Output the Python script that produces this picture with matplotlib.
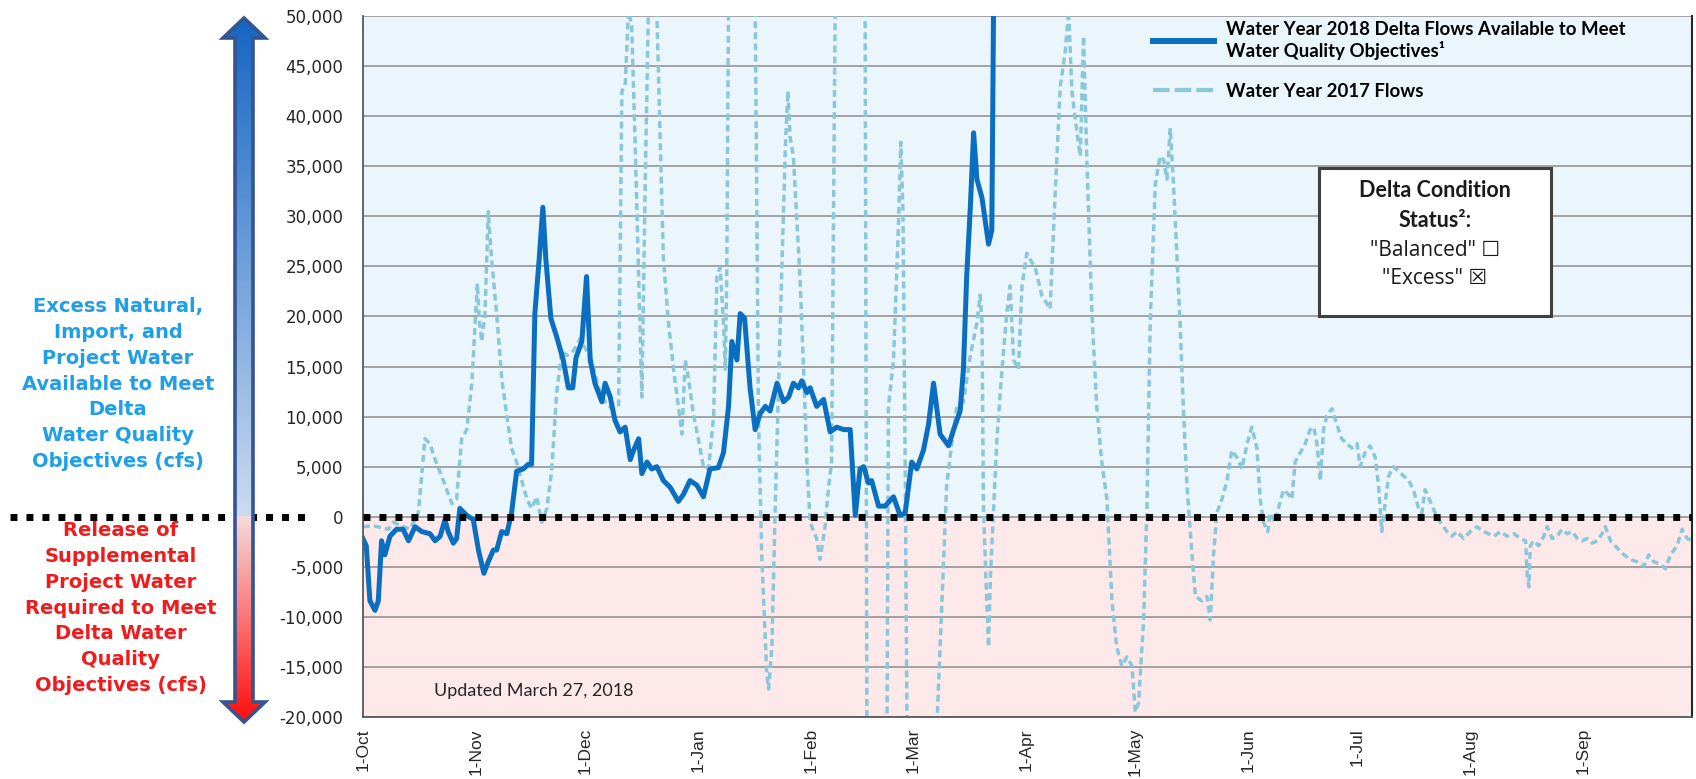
import numpy as np
import matplotlib
matplotlib.use("Agg")
import matplotlib.pyplot as plt
from matplotlib.patches import Polygon, Rectangle
from matplotlib.lines import Line2D
from matplotlib.ticker import FuncFormatter

plt.rcParams["font.family"] = "DejaVu Sans"

# x = days counted from 1-Oct, y = cfs
wy2018_day = [0, 0.9, 1.9, 3.3, 4.2, 5.1, 6, 7.4, 9.2, 11, 12.5, 14.3, 16.1, 18.4, 19.8,
              21.2, 22.5, 23.4, 24.8, 25.7, 26.6, 28.5, 30.3, 31.7, 33.2, 34.4, 35.8, 36.7,
              38.1, 39.5, 40.8, 42.2, 44, 45.4, 46.3, 47.2, 48.4, 49.4, 50.2, 51.6, 53.2, 55,
              56.4, 57.6, 58.5, 60.1, 61.4, 62.4, 63.7, 65.6, 66.5, 67.9, 69.2, 70.6, 72, 73.4,
              74.3, 75.7, 76.6, 78, 79.3, 80.7, 82.5, 84.4, 86.6, 88, 89.8, 91.7, 93.5, 95.3,
              97.6, 99, 100.4, 101.3, 102.7, 103.6, 104.8, 106.3, 107.7, 109.1, 110.5, 111.8,
              113.7, 115.5, 116.9, 118.2, 119.6, 120.5, 121.9, 122.8, 124.6, 126.5, 128.3,
              130.1, 132, 133.8, 135.2, 136.5, 137.5, 138.8, 139.7, 141.6, 143.4, 145.7, 147.5,
              148.9, 150.7, 152.1, 153.9, 155.3, 156.7, 158.5, 160.8, 162.2, 164, 164.9, 165.8,
              166.8, 167.7, 168.6, 170, 171.8, 172.7, 173.2, 173.6]
wy2018_cfs = [-2200, -2900, -8400, -9350, -8400, -2400, -3800, -1950, -1250, -1250, -2400,
              -1000, -1480, -1700, -2400, -1950, -300, -1500, -2640, -2200, 830, 140, -300,
              -3330, -5650, -4500, -3330, -3330, -1480, -1700, 370, 4540, 4770, 5230, 5230,
              20280, 25800, 30900, 25800, 19800, 17960, 15650, 12870, 12870, 15880, 17500,
              23980, 15650, 13330, 11480, 13330, 11950, 9630, 8470, 8940, 5700, 6620, 7780,
              4300, 5460, 4770, 5000, 3610, 2920, 1530, 2220, 3610, 3150, 1990, 4770, 4900,
              6390, 11020, 17500, 15650, 20280, 19820, 12870, 8700, 10320, 11020, 10560, 13330,
              11480, 11950, 13330, 12870, 13570, 12400, 12870, 11020, 11710, 8470, 8940, 8700,
              8700, 140, 4770, 5000, 3380, 3610, 1060, 1060, 1990, 140, 370, 5460, 4770, 6620,
              9170, 13330, 8240, 7080, 8700, 10560, 14720, 23980, 30900, 38340, 33700, 31850,
              27220, 28610, 52000, 60000]

wy2017_day = [0, 3, 5, 7, 8.3, 11, 12.9, 15.2, 17, 18.4, 19.8, 21.6, 23, 24.4, 25.7, 27.1,
              28.5, 29.9, 30.8, 31.4, 31.9, 32.6, 33.5, 34.4, 35.3, 36.7, 38.1, 39.5, 40.8,
              42.2, 43.6, 45, 46.3, 47.7, 49.1, 50.5, 51.8, 53.2, 54.6, 55.9, 57.8, 59.6, 61.4,
              62.8, 64.7, 66.5, 68.3, 70.2, 71.1, 72, 72.9, 73.8, 74.7, 75.7, 76.6, 77.5, 78.4,
              79.8, 80.7, 81.6, 82.5, 83.9, 85.3, 86.6, 87.6, 88.5, 89.4, 90.8, 92.1, 93.5,
              94.9, 96.3, 97.2, 98.1, 99, 99.5, 99.9, 100.4, 104, 107.7, 108.6, 109.5, 110.9,
              111.4, 112.3, 113.2, 114.6, 116, 116.7, 117.3, 118.2, 119.1, 120, 121, 121.9,
              122.8, 124.6, 125.5, 126.9, 127.8, 128.7, 129.7, 134, 137.9, 138.4, 141, 143.9,
              144.3, 145.7, 147.1, 147.7, 148.3, 148.9, 149.4, 152, 154, 156, 157.6, 159,
              160.3, 161.7, 163.1, 164.9, 166.8, 168.6, 169.5, 170, 170.4, 171.3, 171.8, 172.3,
              173.2, 174.1, 175.5, 176.8, 177.7, 178.7, 180, 181, 182.3, 183.7, 184.6, 186.4,
              188.7, 190.1, 191.5, 192.8, 193.8, 194.7, 196.1, 197, 197.9, 198.8, 200.2, 201.5,
              202.9, 204.3, 205.7, 207, 208.4, 209.8, 211.2, 212.1, 213, 214.4, 215.3, 216.2,
              217.6, 218.9, 219.9, 220.8, 221.7, 222.6, 223.5, 224.4, 225.4, 226.3, 227.2,
              228.6, 230.4, 231.8, 232.7, 233.6, 234.5, 235.9, 237.3, 238.6, 240, 241.4, 242.8,
              244.1, 245.5, 246.4, 247.3, 248.5, 249.1, 250.5, 251.4, 252.8, 254.2, 255.1, 256,
              257.4, 258.8, 260.1, 261.1, 262, 262.9, 263.8, 264.7, 266.1, 267.5, 268.8, 270.2,
              271.6, 273, 273.9, 275.2, 276.6, 278, 278.9, 279.8, 280.7, 281.7, 283, 284.4,
              285.8, 287.2, 288.5, 289.9, 290.8, 291.7, 293.1, 294.5, 295.9, 297.7, 299.1,
              300.4, 302.3, 304.1, 305.9, 307.8, 310.6, 312.4, 314.2, 316.1, 317.9, 319.3,
              319.7, 320.2, 320.6, 321.5, 322.9, 324.3, 325.2, 326.6, 328, 329.3, 330.7, 332.1,
              333.5, 334.8, 336.2, 337.6, 339, 340.3, 341.2, 342.6, 344.4, 346.3, 348.1, 349.9,
              351.8, 353.1, 354.5, 356.3, 357.7, 359.1, 360.9, 362.3, 363.7, 365]
wy2017_cfs = [-1000, -900, -1100, -1250, -550, -1000, -1250, 370, 7780, 7300, 5700, 4070,
              2690, 1300, 1760, 7780, 8700, 13330, 19350, 23290, 19820, 17500, 20280, 30470,
              25830, 20280, 13800, 10090, 6850, 5460, 3610, 1760, 830, 1990, -560, 830, 4540,
              12400, 16580, 16100, 16580, 17730, 16580, 15650, 12870, 11480, 10790, 11020,
              42500, 43000, 50500, 49000, 37900, 24000, 11950, 33200, 51000, 53000, 50500,
              37900, 25800, 19350, 14720, 11020, 8240, 15650, 13800, 10090, 7780, 5000, 4770,
              10090, 23980, 24900, 19350, 14720, 24000, 52000, 70000, 52000, 10090, -3800,
              -15800, -17200, -13000, 830, 19350, 36950, 42500, 37900, 36000, 30000, 24000,
              14720, 5460, -560, -2200, -4260, -1000, 2690, 5460, 52000, 70000, 52000, -22000,
              -35000, -22000, 11020, 15650, 29540, 37400, 30470, 5460, -21000, -24000, -20300,
              -23000, -21000, -8400, 3150, 7300, 11020, 11480, 16100, 19350, 22130, 19350, 830,
              -8400, -13000, -6100, 830, 7780, 14720, 20280, 23060, 15650, 14720, 23060, 26300,
              25400, 24900, 22130, 20740, 32300, 43000, 46200, 50500, 42500, 38300, 36000,
              48000, 35600, 20280, 11020, 5460, 1760, -8400, -13000, -14900, -14000, -14900,
              -19500, -18600, -10300, 830, 19350, 33200, 36000, 35600, 33700, 38800, 33200,
              26300, 19350, 10090, 3150, -1480, -7960, -8400, -7960, -10300, -3800, 370, 1760,
              3610, 6620, 5930, 4770, 7300, 8940, 6850, 1760, -560, -1500, 370, -560, 830, 2690,
              2220, 1760, 5460, 6390, 7300, 8700, 8940, 7300, 3610, 8700, 10090, 10790, 9170,
              7780, 7300, 6850, 7300, 5000, 6390, 7080, 5930, 3150, -1480, 1300, 4070, 5000,
              4540, 4070, 3610, 2690, 830, 370, 2690, 1530, 370, -560, -1480, -1950, -1480,
              -2180, -1480, -1000, -1480, -1950, -1480, -1950, -1700, -2180, -2400, -5650,
              -7000, -2900, -2400, -2900, -1950, -1000, -2180, -1950, -1250, -1700, -1480,
              -2180, -2400, -2180, -2640, -2400, -1700, -1000, -2400, -3100, -3800, -4260,
              -4500, -4950, -3800, -4500, -4720, -5200, -3800, -2900, -1250, -2180, -2400]

month_day = [0, 31, 61, 92, 123, 151, 182, 212, 243, 273, 304, 335]
month_lbl = ["1-Oct", "1-Nov", "1-Dec", "1-Jan", "1-Feb", "1-Mar", "1-Apr", "1-May",
             "1-Jun", "1-Jul", "1-Aug", "1-Sep"]
y_ticks = list(range(-20000, 50001, 5000))

W, H = 1696, 779
fig = plt.figure(figsize=(W / 100, H / 100), dpi=100)

ax = fig.add_axes([363 / W, 62 / H, 1329 / W, 701 / H])
ax.set_xlim(0, 365)
ax.set_ylim(-20000, 50000)
ax.axhspan(0, 50000, color="#EBF6FC", lw=0, zorder=0)
ax.axhspan(-20000, 0, color="#FDE9E9", lw=0, zorder=0)
ax.set_axisbelow("line")
ax.set_yticks(y_ticks)
ax.yaxis.set_major_formatter(FuncFormatter(lambda v, p: f"{int(v):,}"))
ax.grid(axis="y", color="#8C8C8C", lw=1.1)
ax.tick_params(axis="y", length=0, pad=14, labelsize=12, labelcolor="#262626")
ax.set_xticks(month_day)
ax.set_xticklabels(month_lbl, rotation=90, fontsize=12.5, family="Liberation Sans",
                   color="#262626")
ax.tick_params(axis="x", length=0, pad=8)
for side in ["left", "bottom"]:
    ax.spines[side].set_color("#595959")
    ax.spines[side].set_linewidth(1.3)
ax.spines["right"].set_color("#262626")
ax.spines["right"].set_linewidth(1.5)
ax.spines["top"].set_visible(False)

ax.plot(wy2017_day, wy2017_cfs, color="#8AC7DA", lw=2.5, dashes=(2.0, 1.2), zorder=2)
ax.plot(wy2018_day, wy2018_cfs, color="#0A6EC1", lw=3.6, zorder=3,
        solid_joinstyle="round")
ax.axhline(0, color="black", lw=5, dashes=(1.0, 1.3), zorder=4)

handles = [Line2D([], [], color="#0A6EC1", lw=4.3),
           Line2D([], [], color="#8AC7DA", lw=3, dashes=(4, 1.2))]
labels = ["Water Year 2018 Delta Flows Available to Meet\nWater Quality Objectives\u00b9",
          "Water Year 2017 Flows"]
ax.legend(handles, labels, loc="upper left", bbox_to_anchor=(1153 / W, 1 - 21 / H),
          bbox_transform=fig.transFigure, frameon=False, borderpad=0, borderaxespad=0,
          handlelength=3.3, handletextpad=0.6, labelspacing=1.2,
          prop={"family": "Lato", "weight": "bold", "size": 13.4})

# overlay in pixel coordinates for the side annotations
deco = fig.add_axes([0, 0, 1, 1])
deco.set_xlim(0, W)
deco.set_ylim(H, 0)
deco.axis("off")

deco.plot([10, 310], [517, 517], color="black", lw=5, dashes=(1.0, 1.3))

cx, sw, hw = 244, 9, 21
top, tb, bot, bb, zero_y = 18, 38, 722, 702, 517
pts = [(cx, top), (cx + hw, tb), (cx + sw, tb), (cx + sw, bb), (cx + hw, bb), (cx, bot),
       (cx - hw, bb), (cx - sw, bb), (cx - sw, tb), (cx - hw, tb)]
rows = np.arange(top, bot + 1)
grad = np.zeros((len(rows), 2, 3))
up_a, up_b = np.array([0.08, 0.40, 0.77]), np.array([0.80, 0.86, 0.94])
lo_a, lo_b = np.array([0.96, 0.86, 0.86]), np.array([1.0, 0.05, 0.05])
for i, r in enumerate(rows):
    if r < zero_y:
        t = (r - top) / (zero_y - top)
        grad[i, :] = up_a + (up_b - up_a) * t
    else:
        t = (r - zero_y) / (bot - zero_y)
        grad[i, :] = lo_a + (lo_b - lo_a) * t
im = deco.imshow(grad, extent=[cx - hw, cx + hw, bot, top], aspect="auto", zorder=3)
arrow = Polygon(pts, closed=True, fill=False, edgecolor="#34558F", lw=2.6, zorder=4)
deco.add_patch(arrow)
im.set_clip_path(arrow)

deco.text(118, 384, "Excess Natural,\nImport, and\nProject Water\nAvailable to Meet\nDelta\n"
          "Water Quality\nObjectives (cfs)", ha="center", va="center", color="#1F9FE5",
          fontsize=14, fontweight="bold", linespacing=1.45)
deco.text(121, 608, "Release of\nSupplemental\nProject Water\nRequired to Meet\n"
          "Delta Water\nQuality\nObjectives (cfs)", ha="center", va="center",
          color="#EE1C1C", fontsize=14, fontweight="bold", linespacing=1.45)

deco.add_patch(Rectangle((1319, 168), 232, 148, facecolor="white", edgecolor="#404040",
                         lw=2.2, zorder=5))
deco.text(1435, 190, "Delta Condition", ha="center", va="center", family="Lato",
          fontweight="bold", fontsize=15.5, color="#1a1a1a", zorder=6)
deco.text(1435, 220, "Status\u00b2:", ha="center", va="center", family="Lato",
          fontweight="bold", fontsize=15.5, color="#1a1a1a", zorder=6)
deco.text(1435, 250, "\"Balanced\" \u2610", ha="center", va="center",
          family=["Open Sans", "DejaVu Sans"], fontsize=15, color="#1a1a1a", zorder=6)
deco.text(1435, 278, "\"Excess\" \u2612", ha="center", va="center",
          family=["Open Sans", "DejaVu Sans"], fontsize=15, color="#1a1a1a", zorder=6)

deco.text(434, 691, "Updated March 27, 2018", ha="left", va="center", family="Lato",
          fontsize=13, color="#262626")

fig.savefig("out.png", dpi=100)
